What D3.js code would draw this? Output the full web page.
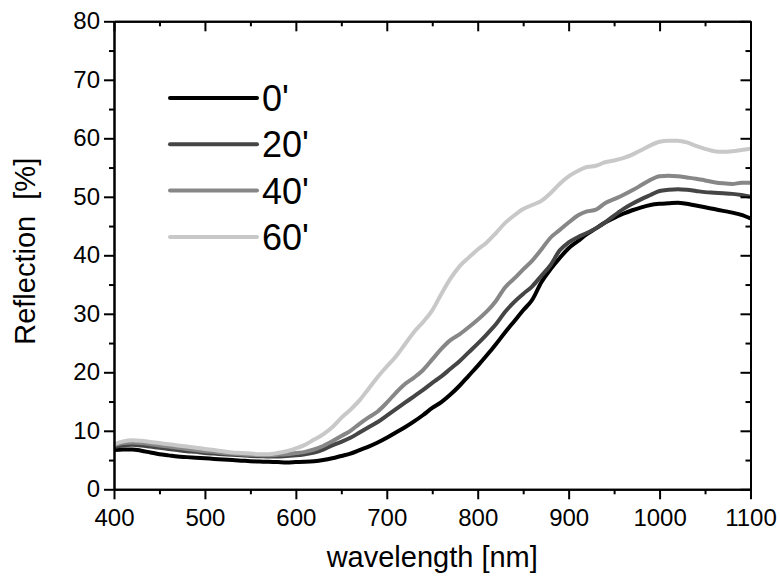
<!DOCTYPE html>
<meta charset="utf-8">
<script src="https://d3js.org/d3.v7.min.js"></script>
<style>
  body { margin: 0; background: #fff; }
  text { font-family: "Liberation Sans", Arial, sans-serif; fill: #000; }
</style>
<div id="chart"></div>
<script>
// wavelength grid (nm)
var wavelength = [400,410,420,430,440,450,460,470,480,490,500,510,520,530,540,550,560,570,580,590,
  600,610,620,630,640,650,660,670,680,690,700,710,720,730,740,750,760,770,780,790,
  800,810,820,830,840,850,860,870,880,890,900,910,920,930,940,950,960,970,980,990,
  1000,1010,1020,1030,1040,1050,1060,1070,1080,1090,1100];

// reflection [%]
var r0 = [6.7,6.8,6.8,6.6,6.3,6.0,5.8,5.6,5.5,5.4,5.3,5.2,5.1,5.0,4.9,4.8,4.75,4.7,4.65,4.6,
  4.65,4.7,4.8,5.0,5.3,5.7,6.1,6.7,7.3,8.0,8.8,9.7,10.6,11.6,12.7,13.9,14.9,16.2,17.7,19.4,
  21.1,22.9,24.8,26.8,28.7,30.6,32.4,35.4,37.6,39.5,41.2,42.4,43.6,44.6,45.6,46.4,47.1,47.7,48.2,48.6,
  48.8,48.9,49.0,48.8,48.5,48.2,47.9,47.6,47.3,46.9,46.3];
var r20 = [7.2,7.5,7.6,7.5,7.3,7.1,6.9,6.7,6.5,6.4,6.2,6.1,6.0,5.9,5.8,5.7,5.65,5.6,5.6,5.7,
  5.8,6.0,6.3,6.8,7.5,8.1,8.8,9.7,10.6,11.5,12.6,13.7,14.8,15.9,17.0,18.2,19.3,20.6,21.9,23.4,
  24.9,26.5,28.2,30.3,32.0,33.4,34.7,36.5,38.3,40.8,42.2,43.1,43.8,44.6,45.6,46.8,47.9,48.8,49.6,50.3,
  51.0,51.2,51.3,51.2,51.0,50.8,50.7,50.6,50.5,50.3,50.0];
var r40 = [7.5,7.9,8.0,7.9,7.7,7.5,7.3,7.1,6.9,6.7,6.5,6.4,6.2,6.1,6.0,5.9,5.85,5.8,5.9,6.0,
  6.2,6.4,6.8,7.4,8.2,9.1,10.0,11.2,12.3,13.3,14.8,16.5,18.0,19.1,20.4,22.2,24.0,25.5,26.5,27.7,
  29.0,30.4,32.2,34.5,36.0,37.6,39.1,41.0,43.0,44.3,45.6,46.8,47.5,47.8,48.9,49.6,50.3,51.1,52.0,52.9,
  53.5,53.6,53.5,53.3,53.1,52.8,52.5,52.3,52.2,52.4,52.4];
var r60 = [7.7,8.2,8.4,8.3,8.1,7.9,7.7,7.5,7.3,7.1,6.9,6.7,6.5,6.3,6.2,6.1,6.0,6.0,6.2,6.5,
  7.0,7.6,8.5,9.4,10.6,12.2,13.6,15.2,17.2,19.2,21.0,22.7,24.8,26.9,28.6,30.6,33.4,36.0,38.1,39.6,
  41.0,42.2,43.8,45.5,46.8,47.9,48.6,49.3,50.6,52.2,53.5,54.4,55.1,55.3,55.9,56.2,56.6,57.2,58.0,58.8,
  59.4,59.6,59.6,59.3,58.7,58.2,57.8,57.7,57.8,58.0,58.2];

var seriesNames = ["0'", "20'", "40'", "60'"];
var seriesColors = ["#000000", "#454545", "#878787", "#c8c8c8"];
var seriesValues = [r0, r20, r40, r60];

var xMajor = [400, 500, 600, 700, 800, 900, 1000, 1100];
var xMinor = [450, 550, 650, 750, 850, 950, 1050];
var yMajor = [0, 10, 20, 30, 40, 50, 60, 70, 80];
var yMinor = [5, 15, 25, 35, 45, 55, 65, 75];

var W = 780, H = 578;
var margin = {top: 21.3, right: 29.5, bottom: 88.7, left: 114};
var width = W - margin.left - margin.right,
    height = H - margin.top - margin.bottom;

var svg = d3.select("#chart").append("svg")
  .attr("width", W).attr("height", H);
var g = svg.append("g")
  .attr("transform", `translate(${margin.left},${margin.top})`);

var x = d3.scaleLinear().domain([400, 1100]).range([0, width]);
var y = d3.scaleLinear().domain([0, 80]).range([height, 0]);

var line = d3.line()
  .x(function(d) { return x(d[0]); })
  .y(function(d) { return y(d[1]); })
  .curve(d3.curveMonotoneX);

// curves, 0' first so the light one ends on top
seriesValues.forEach(function(vals, i) {
  g.append("path")
    .datum(wavelength.map(function(w, j) { return [w, vals[j]]; }))
    .attr("d", line)
    .attr("fill", "none")
    .attr("stroke", seriesColors[i])
    .attr("stroke-width", 4)
    .attr("stroke-linejoin", "round");
});

function styleAxis(sel) {
  sel.select(".domain").attr("stroke", "#000").attr("stroke-width", 2);
  sel.selectAll(".tick line").attr("stroke", "#000").attr("stroke-width", 2);
  sel.selectAll("text").attr("font-size", 24).attr("font-family", "Liberation Sans, Arial, sans-serif");
}

// bottom & left: outward ticks with labels
g.append("g").attr("transform", `translate(0,${height})`)
  .call(d3.axisBottom(x).tickValues(xMinor).tickSize(5).tickFormat("").tickSizeOuter(0))
  .call(styleAxis);
g.append("g").attr("transform", `translate(0,${height})`)
  .call(d3.axisBottom(x).tickValues(xMajor).tickSize(10).tickPadding(10).tickSizeOuter(0).tickFormat(d3.format("d")))
  .call(styleAxis);
g.append("g")
  .call(d3.axisLeft(y).tickValues(yMinor).tickSize(5).tickFormat("").tickSizeOuter(0))
  .call(styleAxis);
g.append("g")
  .call(d3.axisLeft(y).tickValues(yMajor).tickSize(10).tickPadding(4).tickSizeOuter(0).tickFormat(d3.format("d")))
  .call(styleAxis);

// top & right: inward ticks, no labels
g.append("g")
  .call(d3.axisTop(x).tickValues(xMinor).tickSize(-5).tickFormat("").tickSizeOuter(0))
  .call(styleAxis);
g.append("g")
  .call(d3.axisTop(x).tickValues(xMajor).tickSize(-10).tickFormat("").tickSizeOuter(0))
  .call(styleAxis);
g.append("g").attr("transform", `translate(${width},0)`)
  .call(d3.axisRight(y).tickValues(yMinor).tickSize(-5).tickFormat("").tickSizeOuter(0))
  .call(styleAxis);
g.append("g").attr("transform", `translate(${width},0)`)
  .call(d3.axisRight(y).tickValues(yMajor).tickSize(-10).tickFormat("").tickSizeOuter(0))
  .call(styleAxis);

// axis titles
svg.append("text")
  .attr("x", margin.left + width / 2)
  .attr("y", 567)
  .attr("text-anchor", "middle")
  .attr("font-size", 29)
  .text("wavelength [nm]");

svg.append("text")
  .attr("transform", `translate(35,${margin.top + height / 2 - 4}) rotate(-90)`)
  .attr("text-anchor", "middle")
  .attr("font-size", 29)
  .style("white-space", "pre")
  .text("Reflection  [%]");

// legend
var legend = svg.append("g");
seriesNames.forEach(function(name, i) {
  var ly = 98 + i * 46.3;
  legend.append("line")
    .attr("x1", 170).attr("x2", 257)
    .attr("y1", ly).attr("y2", ly)
    .attr("stroke", seriesColors[i])
    .attr("stroke-width", 4)
    .attr("stroke-linecap", "round");
  legend.append("text")
    .attr("x", 262).attr("y", ly)
    .attr("dy", "0.36em")
    .attr("font-size", 36)
    .text(name);
});
</script>
